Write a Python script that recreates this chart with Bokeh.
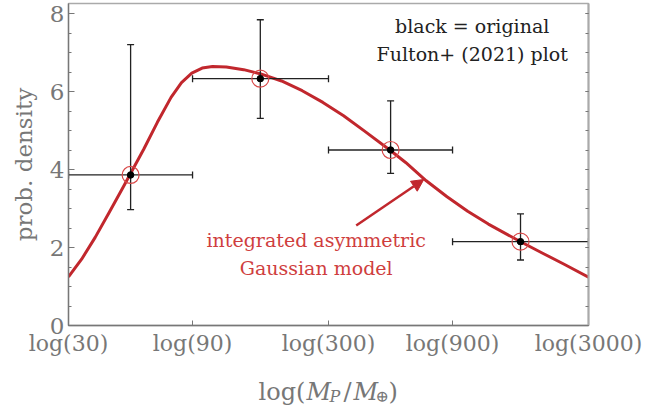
import math
from bokeh.plotting import figure
from bokeh.layouts import column
from bokeh.models import (Range1d, FixedTicker, SingleIntervalTicker, LinearAxis,
                          CustomJSTickFormatter, Label, Arrow, NormalHead, ColumnDataSource)
from bokeh.core.properties import value
from bokeh.embed import file_html
from bokeh.resources import INLINE

# ---- data ----
bin_lo = [30, 90, 300, 900]
bin_hi = [90, 300, 900, 3000]
bin_mid = [52, 164, 520, 1643]
density = [3.86, 6.33, 4.50, 2.15]
density_lo = [2.97, 5.31, 3.90, 1.68]
density_hi = [7.20, 7.84, 5.76, 2.86]

model_mass = [30, 33.7, 38.0, 43.0, 48.6, 52.1, 58.4, 65.9, 74.4, 81.6, 89.4, 98.0,
              107.4, 121.4, 141.5, 164.7, 197.9, 237.7, 285.5, 342.9, 411.7, 520.8,
              594, 713, 857, 1029, 1236, 1652, 2016, 2418, 3000]
model_density = [1.25, 1.70, 2.26, 2.90, 3.54, 3.91, 4.52, 5.21, 5.85, 6.23, 6.47, 6.60,
                 6.64, 6.63, 6.56, 6.45, 6.27, 6.02, 5.72, 5.38, 4.99, 4.48,
                 4.18, 3.71, 3.30, 2.93, 2.60, 2.14, 1.84, 1.57, 1.24]

x_tick_mass = [30, 90, 300, 900, 3000]
y_tick_step = 2

RED = "#c1272d"
RED_TEXT = "#cf3e3e"
RED_CIRCLE = "#d94848"
GREY = "#777777"
SERIF = "DejaVu Serif"

FRAME_LEFT = 68
FRAME_W = 520
BORDER_R = 76
FRAME_BOTTOM = 325
PX_PER_DEC = 260.0
PX_PER_UNIT = 39.0
MAIN_H = 365
LABEL_H = 40


def px_to_mass(px):
    return 30 * 10 ** ((px - FRAME_LEFT) / PX_PER_DEC)


def py_to_val(py):
    return (FRAME_BOTTOM - py) / PX_PER_UNIT


p = figure(x_axis_type="log", output_backend="svg", toolbar_location=None,
           width=664, height=MAIN_H, frame_width=FRAME_W, frame_height=322,
           x_range=Range1d(30, 3000), y_range=Range1d(0, 322 / PX_PER_UNIT),
           min_border_left=FRAME_LEFT, min_border_right=BORDER_R, min_border_top=3,
           min_border_bottom=MAIN_H - FRAME_BOTTOM)
p.grid.visible = False
p.background_fill_color = "white"
p.border_fill_color = "white"
p.outline_line_color = "#aaaaaa"
p.outline_line_width = 1.5

# bottom axis
xa = p.xaxis[0]
xa.ticker = FixedTicker(ticks=x_tick_mass, minor_ticks=[])
xa.formatter = CustomJSTickFormatter(code="return 'log(' + Math.round(tick) + ')';")
xa.major_tick_in = 5
xa.major_tick_out = 0
xa.minor_tick_in = 0
xa.minor_tick_out = 0
xa.axis_line_color = GREY
xa.axis_line_width = 1.3
xa.major_tick_line_color = GREY
xa.major_label_text_font = SERIF
xa.major_label_text_font_size = "22px"
xa.major_label_text_color = GREY
xa.major_label_standoff = 5

# left axis
ya = p.yaxis[0]
ya.ticker = SingleIntervalTicker(interval=y_tick_step, num_minor_ticks=4)
ya.major_tick_in = 6
ya.major_tick_out = 0
ya.minor_tick_in = 3
ya.minor_tick_out = 0
ya.axis_line_color = GREY
ya.axis_line_width = 1.3
ya.major_tick_line_color = GREY
ya.minor_tick_line_color = GREY
ya.major_label_text_font = SERIF
ya.major_label_text_font_size = "23px"
ya.major_label_text_color = GREY
ya.major_label_standoff = 4
ya.axis_label = "prob. density"
ya.axis_label_text_font = SERIF
ya.axis_label_text_font_style = "normal"
ya.axis_label_text_font_size = "23px"
ya.axis_label_text_color = GREY
ya.axis_label_standoff = 10

# right axis (ticks only)
ra = LinearAxis(ticker=SingleIntervalTicker(interval=y_tick_step, num_minor_ticks=4),
                formatter=CustomJSTickFormatter(code="return '';"))
ra.major_tick_in = 3
ra.major_tick_out = 0
ra.minor_tick_in = 3
ra.minor_tick_out = 0
ra.axis_line_color = "#aaaaaa"
ra.axis_line_width = 2
ra.major_tick_line_color = GREY
ra.minor_tick_line_color = GREY
p.add_layout(ra, "right")

# model curve
p.line(model_mass, model_density, line_color=RED, line_width=3, line_join="round")

# error bars
src = ColumnDataSource(dict(lo=bin_lo, hi=bin_hi, mid=bin_mid, y=density,
                            ylo=density_lo, yhi=density_hi))
ERR = "#222222"
p.segment(x0="lo", x1="hi", y0="y", y1="y", source=src, line_color=ERR, line_width=1.3)
p.segment(x0="mid", x1="mid", y0="ylo", y1="yhi", source=src, line_color=ERR, line_width=1.3)
p.scatter(x="lo", y="y", source=src, marker="dash", size=7, angle=math.pi / 2,
          line_color=ERR, line_width=1.3)
p.scatter(x="hi", y="y", source=src, marker="dash", size=7, angle=math.pi / 2,
          line_color=ERR, line_width=1.3)
p.scatter(x="mid", y="ylo", source=src, marker="dash", size=7, line_color=ERR, line_width=1.3)
p.scatter(x="mid", y="yhi", source=src, marker="dash", size=7, line_color=ERR, line_width=1.3)

# markers
p.scatter(x="mid", y="y", source=src, marker="circle", size=17, fill_color=None,
          line_color=RED_CIRCLE, line_width=1.2)
p.scatter(x="mid", y="y", source=src, marker="circle", size=6.5, fill_color="black",
          line_color="black")

# annotations
for txt, py in [("black = original", 25), ("Fulton+ (2021) plot", 53)]:
    p.add_layout(Label(x=px_to_mass(471.7), y=py_to_val(py), text=txt, text_align="center",
                       text_baseline="middle", text_font=SERIF, text_font_size="19px",
                       text_color="#222222"))
for txt, py in [("integrated asymmetric", 239), ("Gaussian model", 267)]:
    p.add_layout(Label(x=px_to_mass(315.7), y=py_to_val(py), text=txt, text_align="center",
                       text_baseline="middle", text_font=SERIF, text_font_size="19px",
                       text_color=RED_TEXT))

p.add_layout(Arrow(x_start=px_to_mass(355.7), y_start=py_to_val(225),
                   x_end=px_to_mass(423.3), y_end=py_to_val(179),
                   line_color=RED, line_width=2.5,
                   end=NormalHead(size=12, fill_color=RED, line_color=RED, line_width=1)))

# ---- x axis title strip (italic M and subscripts), a second figure below ----
# its frame is aligned with the main frame; x range in canvas pixels
q = figure(output_backend="svg", toolbar_location=None, width=664, height=LABEL_H,
           frame_width=FRAME_W, frame_height=LABEL_H,
           x_range=Range1d(FRAME_LEFT, FRAME_LEFT + FRAME_W), y_range=Range1d(0, LABEL_H),
           x_axis_location=None, y_axis_location=None,
           min_border_left=FRAME_LEFT, min_border_right=BORDER_R,
           min_border_top=0, min_border_bottom=0)
q.grid.visible = False
q.outline_line_color = None
q.background_fill_color = "white"
q.border_fill_color = "white"

BASE = LABEL_H - (391 - MAIN_H)   # baseline of main text, measured from strip bottom
piece_src = ColumnDataSource(dict(
    text=["log(", "M", "P", "/", "M", "\u2295", ")"],
    x=[258, 306, 329, 343, 353, 375, 388],
    y=[BASE, BASE, BASE - 5, BASE, BASE, BASE - 5, BASE],
    size=["24px", "24px", "16px", "24px", "24px", "16px", "24px"],
    style=["normal", "italic", "italic", "normal", "italic", "normal", "normal"],
))
q.text(x="x", y="y", text="text", source=piece_src, text_font=value(SERIF),
       text_font_size="size", text_font_style="style", text_color=GREY,
       text_align="left", text_baseline="alphabetic")

layout = column(p, q, spacing=0)
open("out.html", "w").write(file_html(layout, INLINE))
